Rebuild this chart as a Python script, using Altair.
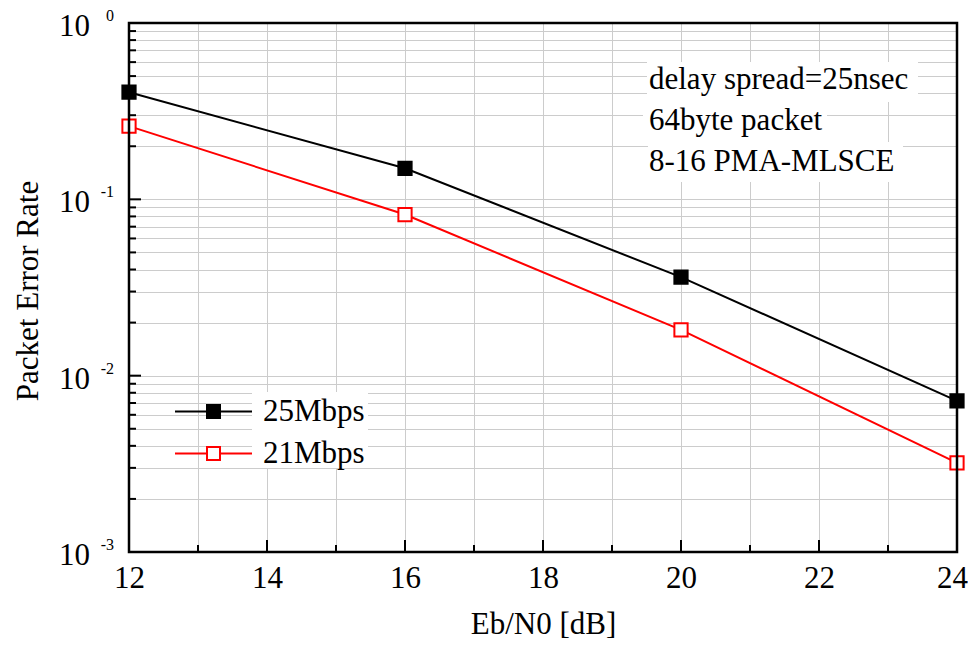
import altair as alt
import pandas as pd

# ---- data ----
ebn0 = [12, 16, 20, 24]
per_25 = [0.405, 0.150, 0.0362, 0.0072]
per_21 = [0.260, 0.082, 0.0182, 0.0032]
series_names = ["25Mbps", "21Mbps"]
x_ticks = list(range(12, 25))
decades = [1, 0.1, 0.01, 0.001]
exponents = ["0", "-1", "-2", "-3"]
note_lines = ["delay spread=25nsec", "64byte packet", "8-16 PMA-MLSCE"]

FONT = "Liberation Serif"
FS = 31
W, H = 828, 529

rows = []
for name, vals in zip(series_names, [per_25, per_21]):
    for xv, yv in zip(ebn0, vals):
        rows.append({"x": xv, "y": yv, "series": name})
df = pd.DataFrame(rows)

minor_y = [k * d for d in [0.1, 0.01, 0.001] for k in range(2, 10)]
all_y = sorted(decades + minor_y)

xscale = alt.Scale(domain=[12, 24], nice=False, zero=False)
yscale = alt.Scale(type="log", domain=[0.001, 1], nice=False)

# legend symbol: line with a square in the middle (scaled by sqrt(size)/2 = 10)
sym_path = "M-3.85,0H-0.65M0.65,0H3.85M-0.65,-0.65H0.65V0.65H-0.65Z"
leg = alt.Legend(
    title=None, orient="none", legendX=69, legendY=373,
    symbolType=sym_path, symbolSize=400, symbolStrokeWidth=2,
    labelFont=FONT, labelFontSize=FS, labelColor="black",
    labelOffset=34, rowPadding=10, padding=0,
)
color_enc = alt.Color("series:N", scale=alt.Scale(domain=series_names, range=["#000000", "#ff0000"]), legend=leg)
fill_enc = alt.Fill("series:N", scale=alt.Scale(domain=series_names, range=["#000000", "#ffffff"]), legend=leg)

xaxis = alt.Axis(
    values=x_ticks, labelExpr="datum.value % 2 == 0 ? format(datum.value, 'd') : ''",
    labelFlush=False, labelOverlap=False,
    labelOffset={"condition": {"test": "datum.value == 24", "value": -5}, "value": 0},
    grid=True, gridColor="#cccccc", gridWidth=1, ticks=False, domain=False,
    labelFont=FONT, labelFontSize=FS, labelColor="black", labelPadding=11,
    title="Eb/N0 [dB]", titleFont=FONT, titleFontSize=FS, titleFontWeight="normal",
    titleColor="black", titleX=W / 2, titleY=72, titleBaseline="middle",
)
yaxis = alt.Axis(
    values=all_y, labels=False, grid=True, gridColor="#cccccc", gridWidth=1,
    ticks=False, domain=False,
    title="Packet Error Rate", titleFont=FONT, titleFontSize=FS, titleFontWeight="normal",
    titleColor="black", titleX=-101, titleY=H / 2 + 3, titleBaseline="middle", titleAngle=-90,
)

one = pd.DataFrame({"a": [0]})


def white_box(x0, x1, y0, y1):
    return alt.Chart(one).mark_rect(fill="white", stroke=None).encode(
        x=alt.value(x0), x2=alt.value(x1), y=alt.value(y0), y2=alt.value(y1))


boxes = [
    white_box(518, 789, 39, 79),
    white_box(514, 698, 79, 119),
    white_box(519, 774, 119, 159),
    white_box(123, 239, 369, 445),
]

base = alt.Chart(df)
lines = base.mark_line(strokeWidth=2).encode(
    x=alt.X("x:Q", scale=xscale, axis=xaxis),
    y=alt.Y("y:Q", scale=yscale, axis=yaxis),
    color=color_enc,
)
points = base.mark_point(shape="square", size=175, strokeWidth=2, opacity=1, fillOpacity=1).encode(
    x=alt.X("x:Q", scale=xscale),
    y=alt.Y("y:Q", scale=yscale),
    color=color_enc,
    fill=fill_enc,
)

frame = alt.Chart(one).mark_rect(fill="transparent", stroke="black", strokeWidth=2.5).encode(
    x=alt.value(0), x2=alt.value(W), y=alt.value(0), y2=alt.value(H))

# inward ticks
ymaj = alt.Chart(pd.DataFrame({"v": decades})).mark_rule(color="black", strokeWidth=2).encode(
    y=alt.Y("v:Q", scale=yscale), x=alt.value(0), x2=alt.value(12))
ymin = alt.Chart(pd.DataFrame({"v": minor_y})).mark_rule(color="black", strokeWidth=2).encode(
    y=alt.Y("v:Q", scale=yscale), x=alt.value(0), x2=alt.value(7))
xmaj = alt.Chart(pd.DataFrame({"v": [t for t in x_ticks if t % 2 == 0]})).mark_rule(color="black", strokeWidth=2).encode(
    x=alt.X("v:Q", scale=xscale), y=alt.value(H), y2=alt.value(H - 12))
xmin = alt.Chart(pd.DataFrame({"v": [t for t in x_ticks if t % 2 == 1]})).mark_rule(color="black", strokeWidth=2).encode(
    x=alt.X("v:Q", scale=xscale), y=alt.value(H), y2=alt.value(H - 7))

# y tick labels 10^n
lab_df = pd.DataFrame({"v": decades, "e": exponents})
ylab_base = alt.Chart(lab_df).mark_text(font=FONT, fontSize=FS, align="right", baseline="middle", color="black", dy=4).encode(
    y=alt.Y("v:Q", scale=yscale), x=alt.value(-39), text=alt.value("10"))
ylab_exp = alt.Chart(lab_df).mark_text(font=FONT, fontSize=16, align="right", baseline="middle", color="black", dy=-7).encode(
    y=alt.Y("v:Q", scale=yscale), x=alt.value(-15), text="e:N")

# annotation
note = alt.Chart(one).mark_text(
    font=FONT, fontSize=FS, align="left", baseline="middle", color="black",
    lineHeight=41, text=note_lines,
).encode(x=alt.value(520), y=alt.value(57))

chart = alt.layer(
    *boxes, lines, points, frame, ymaj, ymin, xmaj, xmin, ylab_base, ylab_exp, note
).resolve_scale(color="shared", fill="shared").properties(
    width=W, height=H,
    autosize=alt.AutoSizeParams(type="none"),
    padding={"left": 121, "top": 15, "right": 11, "bottom": 87},
).configure_view(stroke=None).configure(background="white")

chart.save("out.html", embed_options={"renderer": "svg", "actions": False})
